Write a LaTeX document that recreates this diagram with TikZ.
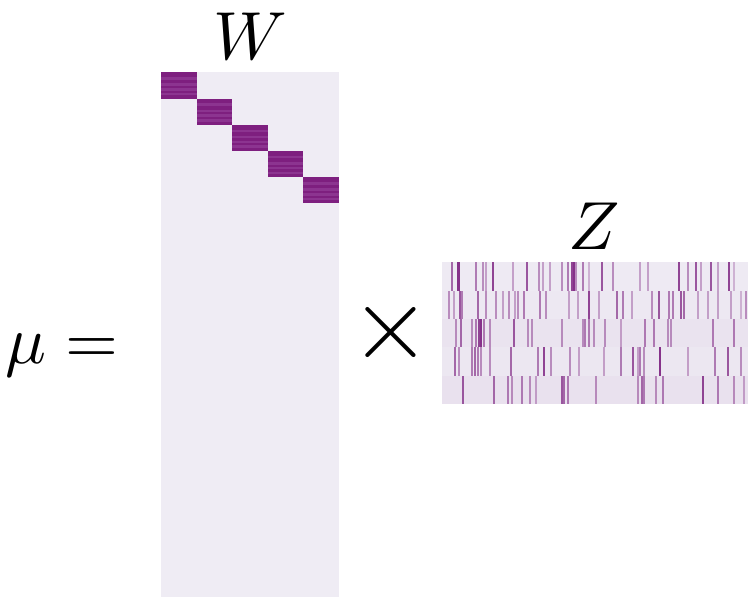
\documentclass[tikz,border=0pt]{standalone}
\usepackage{amsmath}
\usepackage{tikz}
\usepackage{xcolor}
\definecolor{Wash}{HTML}{EFECF4}
\definecolor{Plum}{HTML}{7E1F7F}
\definecolor{PlumLight}{HTML}{8C3490}
\definecolor{Bar}{HTML}{86328A}
\tikzset{
  mlabel/.style={inner sep=0pt,scale=3.4,text=black},
  cellblock/.style={fill=Plum},
  stripe/.style={fill=PlumLight},
  zbar/.style={fill=Bar}
}

\begin{document}
\begin{tikzpicture}[x=0.5pt,y=-0.5pt]
  \useasboundingbox (0,0) rectangle (748,597);
  % loading matrix W, block diagonal
  \fill[Wash] (161,72.5) rectangle (339,597);
  \foreach \i in {0,...,4}{
    \fill[cellblock] ({161+35.6*\i},{72.5+26.2*\i}) rectangle ++(35.6,26.2);
    \foreach \s in {0.18,0.42,0.6,0.78}
      \fill[stripe] ({161+35.6*\i},{72.5+26.2*(\i+\s)}) rectangle ++(35.6,2.5);
  }
  % factor matrix Z, one band per row
  \foreach \r/\t in {0/1,1/2,2/5,3/3,4/6}
    \fill[Bar!\t!Wash] (442,{262.3+28.4*\r}) rectangle (748,{262.3+28.4*(\r+1)});
  \foreach \r/\list in {
      0/{451/.7,457/1,458.5/1,475/.6,482/.5,485/.4,492/.9,512/.4,526/.8,538/.5,542/.4,549/.4,561/.5,567/.6,571/.9,573/1,575/.5,582/.6,588/.3,601/.8,612/.5,639/.4,647/.4,678/.9,687/.5,695/.8,700/.4,710/.8,717/.4,728/.9,733/.3},
      1/{448/.5,453/.4,459/.8,461/.6,477/.7,485/.5,495/.5,502/.4,508/.5,514/.4,517/.5,523/.6,539/.6,545/.5,568/.4,577/.4,588/.9,598/.4,616/.7,622/.6,631/.4,651/.5,658/.8,668/.6,672/.6,680/.8,683/.7,697/.4,707/.4,717/.4,730/.4,740/.3,745/.5},
      2/{455/.5,460/.7,471/.5,475/.6,478/.9,480/1,483/.6,489/.5,513/.8,527/.5,531/.5,561/.5,582/.5,584/.6,588/.6,593/.5,604/.5,620/.4,644/.6,653/.6,667/.5,670/.5,712/.6,733/.6},
      3/{454/.7,458/.5,471/.6,474/.7,477/.6,480/.5,489/.5,510/.7,537/.6,543/.9,550/.5,569/.5,578/.4,603/.4,620/.6,632/.8,637/.4,639/.6,643/.5,659/1,687/.4,714/.6,727/.8,740/.5},
      4/{462/.8,493/.7,507/.6,511/.5,521/.6,529/.5,535/.4,561/.8,563/.7,567/.6,595/.5,637/.5,641/.7,643/.6,655/.5,662/.6,702/.9,717/.6,733/.5,743/.4}}
    \foreach \x/\o in \list
      \fill[zbar,opacity=\o] (\x,{262.3+28.4*\r}) rectangle ++(1.6,28.4);
  % labels
  \node[mlabel] (wlabel) at (250,36) {$W$};
  \node[mlabel] (zlabel) at (594,226) {$Z$};
  \node[mlabel,anchor=base] (mueq) at (62,364) {$\mu =$};
  \node[inner sep=0pt,scale=5.2] (times) at (391,333) {$\times$};
\end{tikzpicture}
\end{document}
